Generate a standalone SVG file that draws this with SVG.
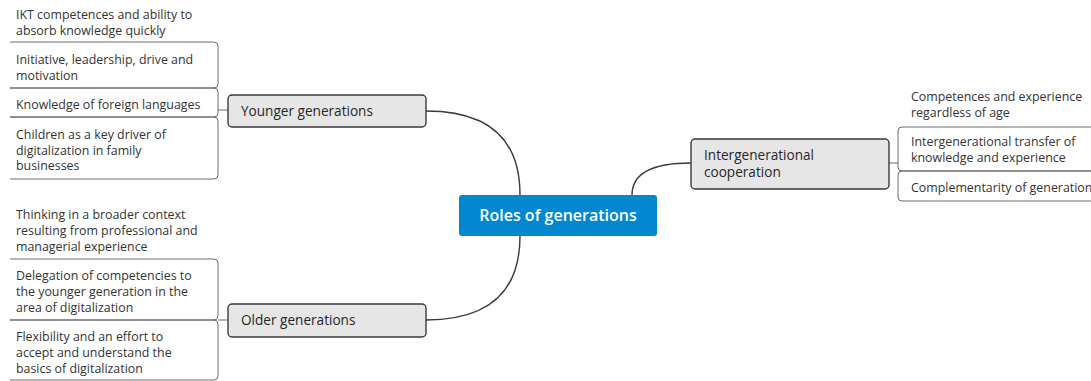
<svg xmlns="http://www.w3.org/2000/svg" width="1091" height="381" viewBox="0 0 1091 381">
  <style>
    text { font-family: "Open Sans", "Liberation Sans", sans-serif; fill: #333; }
    .leaf { font-size: 12.4px; }
    .topic { font-size: 13.6px; font-weight: 500; fill: #262626; }
    .central { font-size: 16px; font-weight: 600; fill: #ffffff; }
    .box { fill: #e6e6e6; stroke: #3a3a3a; stroke-width: 1.4; }
    .link { fill: none; stroke: #3a3a3a; stroke-width: 1.4; }
    .bracket { fill: none; stroke: #6a6a6a; stroke-width: 1; }
  </style>

  <!-- connectors -->
  <g id="connectors">
    <path class="link" d="M426,111 Q520,111 520,195"/>
    <path class="link" d="M426,320 Q520,320 520,236"/>
    <path class="link" d="M632,195 Q632,163 691,163"/>
    <path class="bracket" d="M218,110 H228"/>
    <path class="bracket" d="M218,320 H228"/>
    <path class="bracket" d="M889,163 H898"/>
  </g>

  <!-- central topic -->
  <g id="roles-of-generations">
    <rect x="459" y="195" width="198" height="41" rx="3" fill="#0288d1"/>
    <text class="central" x="558" y="221" text-anchor="middle">Roles of generations</text>
  </g>

  <!-- younger generations -->
  <g id="younger-generations">
    <rect class="box" x="228" y="95" width="198" height="32" rx="4"/>
    <text class="topic" x="241" y="116">Younger generations</text>
  </g>
  <g id="younger-items">
    <path class="bracket" d="M10,42 H214 Q218,42 218,46 V84 Q218,88 214,88 H10"/>
    <path class="bracket" d="M10,88 H214 Q218,88 218,92 V113 Q218,117 214,117 H10"/>
    <path class="bracket" d="M10,117 H214 Q218,117 218,121 V175 Q218,179 214,179 H10"/>
    <text class="leaf" x="16" y="19">IKT competences and ability to</text>
    <text class="leaf" x="16" y="34.5">absorb knowledge quickly</text>
    <text class="leaf" x="16" y="64">Initiative, leadership, drive and</text>
    <text class="leaf" x="16" y="79.5">motivation</text>
    <text class="leaf" x="16" y="109">Knowledge of foreign languages</text>
    <text class="leaf" x="16" y="139">Children as a key driver of</text>
    <text class="leaf" x="16" y="154.5">digitalization in family</text>
    <text class="leaf" x="16" y="170">businesses</text>
  </g>

  <!-- older generations -->
  <g id="older-generations">
    <rect class="box" x="228" y="304" width="198" height="33" rx="4"/>
    <text class="topic" x="241" y="325">Older generations</text>
  </g>
  <g id="older-items">
    <path class="bracket" d="M10,259 H214 Q218,259 218,263 V316 Q218,320 214,320 H10"/>
    <path class="bracket" d="M10,320 H214 Q218,320 218,324 V376 Q218,380 214,380 H10"/>
    <text class="leaf" x="16" y="219">Thinking in a broader context</text>
    <text class="leaf" x="16" y="235">resulting from professional and</text>
    <text class="leaf" x="16" y="250.5">managerial experience</text>
    <text class="leaf" x="16" y="280">Delegation of competencies to</text>
    <text class="leaf" x="16" y="296">the younger generation in the</text>
    <text class="leaf" x="16" y="311.5">area of digitalization</text>
    <text class="leaf" x="16" y="341">Flexibility and an effort to</text>
    <text class="leaf" x="16" y="357">accept and understand the</text>
    <text class="leaf" x="16" y="372.5">basics of digitalization</text>
  </g>

  <!-- intergenerational cooperation -->
  <g id="intergenerational-cooperation">
    <rect class="box" x="691" y="139" width="198" height="50" rx="4"/>
    <text class="topic" x="704" y="160">Intergenerational</text>
    <text class="topic" x="704" y="177">cooperation</text>
  </g>
  <g id="cooperation-items">
    <path class="bracket" d="M1095,127 H902 Q898,127 898,131 V167 Q898,171 902,171 H1095"/>
    <path class="bracket" d="M1095,171 H902 Q898,171 898,175 V197 Q898,201 902,201 H1095"/>
    <text class="leaf" x="911" y="101">Competences and experience</text>
    <text class="leaf" x="911" y="116.5">regardless of age</text>
    <text class="leaf" x="911" y="146">Intergenerational transfer of</text>
    <text class="leaf" x="911" y="162">knowledge and experience</text>
    <text class="leaf" x="911" y="192">Complementarity of generations</text>
  </g>
</svg>
